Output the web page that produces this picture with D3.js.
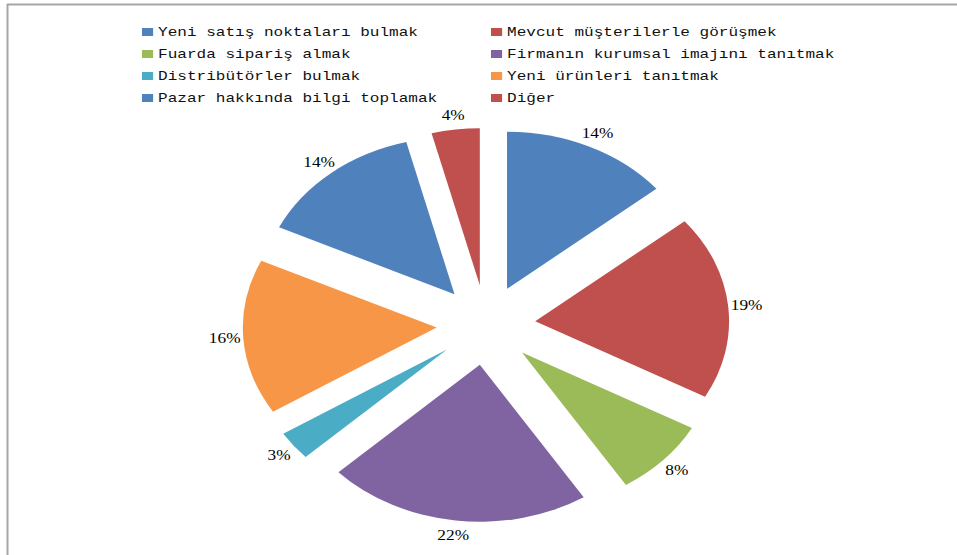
<!DOCTYPE html>
<html>
<head>
<meta charset="utf-8">
<script src="https://cdn.jsdelivr.net/npm/d3@7/dist/d3.min.js"></script>
<style>
  html, body { margin: 0; padding: 0; background: #fff; }
  svg { display: block; }
</style>
</head>
<body>
<svg id="chart" width="957" height="555"></svg>
<script>
const categories = [
  "Yeni satış noktaları bulmak",
  "Mevcut müşterilerle görüşmek",
  "Fuarda sipariş almak",
  "Firmanın kurumsal imajını tanıtmak",
  "Distribütörler bulmak",
  "Yeni ürünleri tanıtmak",
  "Pazar hakkında bilgi toplamak",
  "Diğer"
];
const values = [14, 19, 8, 22, 3, 16, 14, 4];
const colors = ["#4F81BD", "#C0504D", "#9BBB59", "#8064A2", "#4BACC6", "#F79646", "#4F81BD", "#C0504D"];

const W = 957, H = 555;
const svg = d3.select("#chart");
const sx = 1.235;          // horizontal stretch of the picture
const cx = 486, cy = 325;
const r = 157, explode = 40, labelR = 212;

// frame
svg.append("line").attr("x1", 7).attr("x2", W).attr("y1", 4.5).attr("y2", 4.5)
  .attr("stroke", "#a6a6a6").attr("stroke-width", 2);
svg.append("line").attr("x1", 7.5).attr("x2", 7.5).attr("y1", 4).attr("y2", H)
  .attr("stroke", "#a6a6a6").attr("stroke-width", 2);

const total = d3.sum(values);
const pie = d3.pie().sort(null).value(d => d)(values);
const arc = d3.arc().innerRadius(0).outerRadius(r);

const g = svg.append("g").attr("transform", `translate(${cx},${cy}) scale(${sx},1)`);
g.selectAll("path").data(pie).enter().append("path")
  .attr("d", arc)
  .attr("fill", (d, i) => colors[i])
  .attr("transform", d => {
    const a = (d.startAngle + d.endAngle) / 2;
    return `translate(${explode * Math.sin(a)},${-explode * Math.cos(a)})`;
  });

// percentage labels
svg.selectAll("text.lbl").data(pie).enter().append("text")
  .attr("class", "lbl")
  .attr("transform", d => {
    const a = (d.startAngle + d.endAngle) / 2;
    const x = cx + sx * labelR * Math.sin(a);
    const y = cy - labelR * Math.cos(a);
    return `translate(${x},${y}) scale(${sx},1)`;
  })
  .attr("text-anchor", "middle")
  .attr("dominant-baseline", "central")
  .attr("font-family", "'Liberation Serif', 'DejaVu Serif', serif")
  .attr("font-size", 14)
  .attr("fill", "#000")
  .text(d => Math.round(d.data / total * 100) + "%");

// legend (two columns)
const legX = [142, 491];
const legY0 = 32, legDy = 22;
const leg = svg.selectAll("g.leg").data(categories).enter().append("g")
  .attr("class", "leg")
  .attr("transform", (d, i) => `translate(${legX[i % 2]},${legY0 + Math.floor(i / 2) * legDy}) scale(${sx},1)`);
leg.append("rect").attr("x", 0).attr("y", -4).attr("width", 9).attr("height", 8)
  .attr("fill", (d, i) => colors[i]);
leg.append("text").attr("x", 13).attr("y", 0)
  .attr("dominant-baseline", "central")
  .attr("font-family", "'Liberation Mono', 'DejaVu Sans Mono', monospace")
  .attr("font-size", 13)
  .attr("fill", "#111")
  .text(d => d);
</script>
</body>
</html>
